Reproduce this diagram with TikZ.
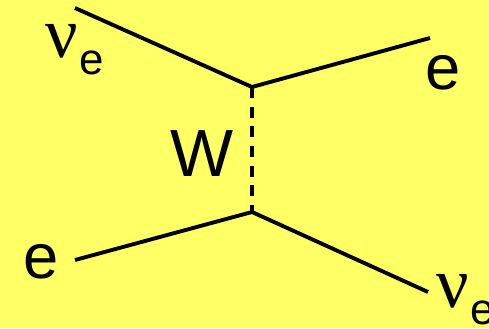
\documentclass[tikz,border=0pt]{standalone}
\usepackage{fontspec}
\setmainfont{Liberation Sans}
\newfontfamily\greekfont{Liberation Serif}
\definecolor{bgyellow}{RGB}{255,255,102}
\tikzset{
  fermion line/.style={line width=2.2pt},
  boson line/.style={line width=2pt, dash pattern=on 6.2pt off 5pt},
  particle label/.style={inner sep=0pt, font=\fontsize{36}{36}\selectfont}
}
\newcommand{\nuelabel}{{\greekfont\fontsize{41}{41}\selectfont ν}\kern1pt\raisebox{-9.6pt}{\fontsize{25}{25}\selectfont e}}

\begin{document}
\begin{tikzpicture}[x=0.02cm, y=-0.02cm]
    \fill[bgyellow] (0,0) rectangle (489,328);
    \useasboundingbox (0,0) rectangle (489,328);
    % vertices and free ends
    \coordinate (vtop) at (252,87);
    \coordinate (vbot) at (252,212);
    \coordinate (nuin) at (75,8);
    \coordinate (eout) at (430,38);
    \coordinate (ein) at (75,260);
    \coordinate (nuout) at (428,292);
    % labels
    \node[particle label] (nuinlabel) at (75,50) {\nuelabel};
    \node[particle label] (eoutlabel) at (443,73) {e};
    \node[particle label, font=\fontsize{38}{38}\selectfont] (wlabel) at (202,154) {W};
    \node[particle label] (einlabel) at (41,262) {e};
    \node[particle label] (nuoutlabel) at (466,300) {\nuelabel};
    % lines
    \draw[fermion line] (nuin) -- (vtop) -- (eout);
    \draw[fermion line] (ein) -- (vbot) -- (nuout);
    \draw[boson line] (vtop) -- (vbot);
\end{tikzpicture}
\end{document}
